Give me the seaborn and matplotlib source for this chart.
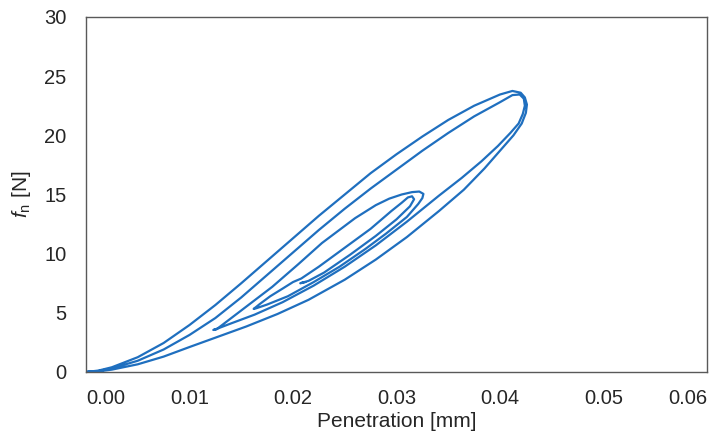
import numpy as np
import matplotlib
matplotlib.use("Agg")
import matplotlib.pyplot as plt
from matplotlib.ticker import FormatStrFormatter
import seaborn as sns

# first impact: loading (outer upper branch)
load1_x = [0, 0.0012, 0.0025, 0.005, 0.0075, 0.010, 0.0125, 0.015, 0.0175, 0.020, 0.0225,
           0.025, 0.0275, 0.030, 0.0325, 0.035, 0.0375, 0.040, 0.0412, 0.0420,
           0.0424, 0.0426, 0.0425]
load1_f = [0, 0.12, 0.4, 1.25, 2.45, 3.97, 5.66, 7.5, 9.4, 11.3, 13.2,
           15.0, 16.8, 18.4, 19.9, 21.3, 22.5, 23.45, 23.75, 23.6,
           23.2, 22.6, 21.9]

# first impact: unloading back to zero
unload1_x = [0.0421, 0.0413, 0.0402, 0.0385, 0.0365, 0.0341, 0.031, 0.028, 0.025,
             0.0215, 0.0185, 0.0155, 0.0125, 0.010, 0.0075, 0.005, 0.0025, 0.0012, 0]
unload1_f = [21.0, 20.0, 18.9, 17.2, 15.4, 13.6, 11.4, 9.5, 7.8,
             6.1, 4.9, 3.85, 2.9, 2.11, 1.3, 0.65, 0.2, 0.05, 0]

# second impact: loading
load2_x = [0.0012, 0.0025, 0.005, 0.0075, 0.010, 0.0125, 0.015, 0.0175, 0.020, 0.0225,
           0.025, 0.0275, 0.030, 0.0325, 0.035, 0.0375, 0.040, 0.0412, 0.0419,
           0.0423, 0.0424, 0.0422]
load2_f = [0.08, 0.3, 0.95, 1.9, 3.13, 4.56, 6.3, 8.2, 10.1, 12.0,
           13.8, 15.5, 17.1, 18.7, 20.2, 21.6, 22.8, 23.4, 23.45,
           23.1, 22.5, 21.8]

# second impact: unloading to first minimum
unload2_x = [0.0418, 0.0410, 0.0398, 0.0382, 0.0363, 0.0341, 0.031, 0.028, 0.025,
             0.022, 0.019, 0.0163, 0.014, 0.0128, 0.0123]
unload2_f = [21.0, 20.2, 19.1, 17.8, 16.4, 14.9, 12.7, 10.7, 8.9,
             7.3, 5.9, 4.85, 4.1, 3.7, 3.55]

# medium loop
mid_x = [0.0126, 0.0135, 0.015, 0.018, 0.0205, 0.0228, 0.026, 0.028, 0.0293,
         0.0305, 0.0315, 0.0322, 0.0326, 0.0325, 0.0321, 0.031, 0.029, 0.027,
         0.0245, 0.022, 0.0195, 0.0175, 0.0165, 0.0162]
mid_f = [3.6, 4.2, 5.2, 7.2, 9.1, 10.9, 13.0, 14.1, 14.65,
         15.0, 15.2, 15.25, 15.05, 14.7, 14.2, 13.1, 11.7, 10.4,
         8.9, 7.6, 6.4, 5.7, 5.4, 5.33]

# small loop settling
small_x = [0.0168, 0.0178, 0.019, 0.0200, 0.0208, 0.0225, 0.025, 0.0275, 0.0295,
           0.0305, 0.0311, 0.0315, 0.0317, 0.0313, 0.030, 0.028, 0.0255, 0.023,
           0.0215, 0.0207, 0.0212]
small_f = [5.75, 6.4, 7.05, 7.6, 7.9, 8.9, 10.5, 12.1, 13.6,
           14.3, 14.75, 14.85, 14.6, 14.0, 12.9, 11.5, 9.9, 8.4,
           7.7, 7.5, 7.6]

x_ticks = [0.00, 0.01, 0.02, 0.03, 0.04, 0.05, 0.06]
y_ticks = [0, 5, 10, 15, 20, 25, 30]

pen = np.concatenate([load1_x, unload1_x, load2_x, unload2_x, mid_x, small_x])
force = np.concatenate([load1_f, unload1_f, load2_f, unload2_f, mid_f, small_f])

sns.set_style("white")
plt.rcParams["font.family"] = ["Liberation Sans", "DejaVu Sans"]
plt.rcParams["mathtext.fontset"] = "custom"
plt.rcParams["mathtext.rm"] = "Liberation Sans"
plt.rcParams["mathtext.it"] = "Liberation Sans:italic"

text_col = "#262626"
fig = plt.figure(figsize=(7.13, 4.38), dpi=100)
ax = fig.add_axes([0.1206, 0.1507, 0.8710, 0.8105])

sns.lineplot(x=pen, y=force, sort=False, estimator=None, color="#1F6FBF",
             linewidth=1.6, ax=ax)

ax.set_xlim(0, 0.06)
ax.set_ylim(0, 30)
ax.set_xticks(x_ticks)
ax.set_yticks(y_ticks)
ax.xaxis.set_major_formatter(FormatStrFormatter("%.2f"))
ax.tick_params(axis="both", length=0, labelsize=14.5, colors=text_col)
ax.tick_params(axis="x", pad=12)
ax.tick_params(axis="y", pad=14)
labels = ax.get_xticklabels()
labels[-1].set_horizontalalignment("right")
labels[0].set_horizontalalignment("left")
labels[0].set_x(0.0)
for s in ax.spines.values():
    s.set_color("#595959")
    s.set_linewidth(1.0)

ax.set_xlabel("Penetration [mm]", fontsize=15, color=text_col, labelpad=3)
ax.set_ylabel(r"$\mathit{f}_{\mathrm{n}}$ [N]", fontsize=15, color=text_col, labelpad=8)

fig.savefig("out.png", dpi=100)
